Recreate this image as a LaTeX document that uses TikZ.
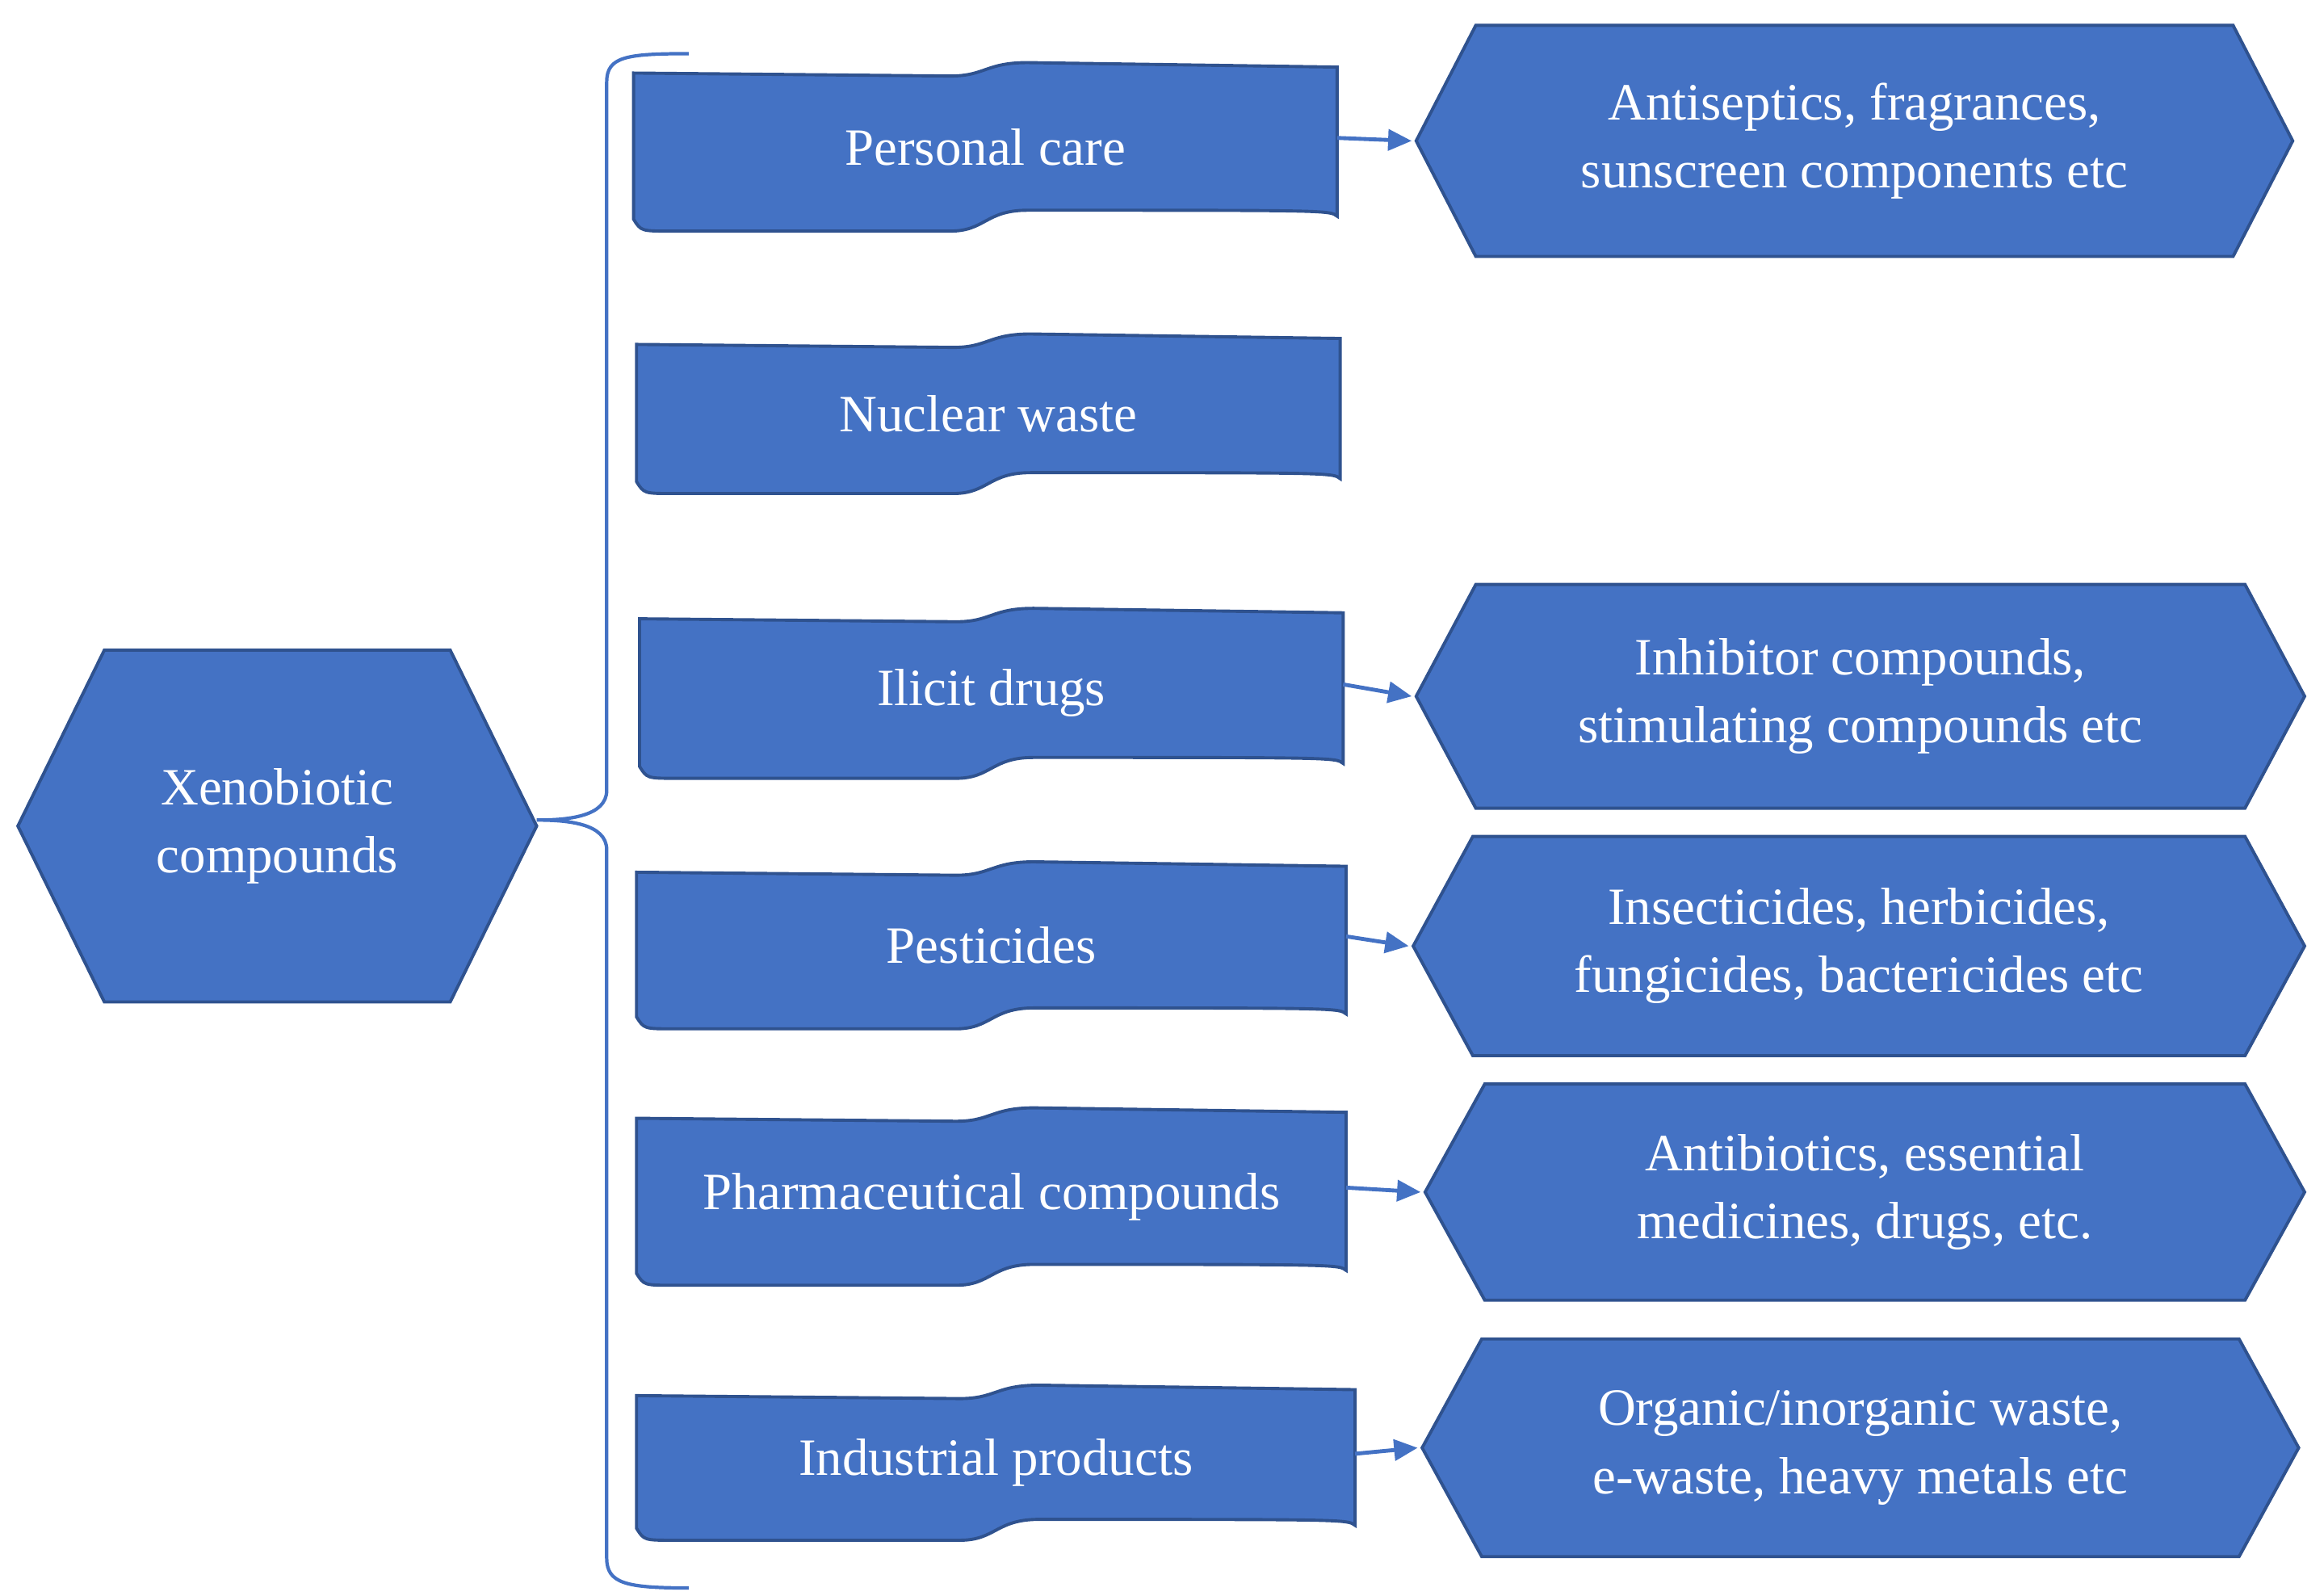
\documentclass[tikz,border=0pt]{standalone}
\usepackage{fontspec}
\setmainfont{Liberation Serif}
\usetikzlibrary{arrows.meta}
\definecolor{fillb}{HTML}{4472C4}
\definecolor{lineb}{HTML}{2F528F}
\tikzset{
 shp/.style={fill=fillb,draw=lineb,line width=1.2pt},
 txt/.style={text=white,font=\fontsize{20}{26}\selectfont,align=center},
 arr/.style={draw=fillb,line width=1.5pt,-{Triangle[length=9pt,width=8pt]}}
}
\newcommand\banner[6]{%
 \path[shp] (#2,#4+7) -- ({#2+0.45*(#3-#2)},#4+9) .. controls ({#2+0.5*(#3-#2)},#4+9) and ({#2+0.5*(#3-#2)},#4) .. ({#2+0.56*(#3-#2)},#4) -- (#3,#4+3) -- (#3,#5-10) .. controls (#3-5,#5-14) .. ({#2+0.56*(#3-#2)},#5-14) .. controls ({#2+0.5*(#3-#2)},#5-14) and ({#2+0.5*(#3-#2)},#5) .. ({#2+0.45*(#3-#2)},#5) -- (#2+25,#5) .. controls (#2+5,#5) .. (#2,#5-8) -- cycle;
 \node[txt] (#1) at ({0.5*(#2+#3)},{0.5*(#4+#5)}) {#6};
 \coordinate (#1e) at (#3,{0.5*(#4+#5)-6});}
\newcommand\hexa[7]{% name x0 x1 t b inset text
 \path[shp] (#2,{0.5*(#4+#5)}) -- (#2+#6,#4) -- (#3-#6,#4) -- (#3,{0.5*(#4+#5)}) -- (#3-#6,#5) -- (#2+#6,#5) -- cycle;
 \node[txt] (#1) at ({0.5*(#2+#3)},{0.5*(#4+#5)}) {#7};
 \coordinate (#1w) at (#2-3,{0.5*(#4+#5)});}
\begin{document}
\begin{tikzpicture}[x=0.02cm,y=-0.02cm]
\useasboundingbox (0,0) rectangle (1559,1070);
\hexa{xen}{12}{360}{436}{672}{58}{Xenobiotic\\compounds}
\coordinate (bt) at (462,36); \coordinate (bb) at (462,1065); \coordinate (bm) at (360,550);
\draw[fillb,line width=1.3pt] (bt) .. controls (420,36) and (407,38) .. (407,55) -- (407,530) .. controls (407,548) and (380,550) .. (bm) .. controls (380,550) and (407,552) .. (407,570) -- (407,1045) .. controls (407,1062) and (420,1065) .. (bb);
\banner{pc}{425}{897}{42}{155}{Personal care}
\banner{nw}{427}{899}{224}{331}{Nuclear waste}
\banner{id}{429}{901}{408}{522}{Ilicit drugs}
\banner{pe}{427}{903}{578}{690}{Pesticides}
\banner{ph}{427}{903}{743}{862}{Pharmaceutical compounds}
\banner{ip}{427}{909}{929}{1033}{Industrial products}
\hexa{h1}{950}{1538}{17}{172}{40}{Antiseptics, fragrances,\\sunscreen components etc}
\hexa{h2}{950}{1546}{392}{542}{40}{Inhibitor compounds,\\stimulating compounds etc}
\hexa{h3}{948}{1546}{561}{708}{40}{Insecticides, herbicides,\\fungicides, bactericides etc}
\hexa{h4}{956}{1546}{727}{872}{40}{Antibiotics, essential\\medicines, drugs, etc.}
\hexa{h5}{954}{1542}{898}{1044}{40}{Organic/inorganic waste,\\e-waste, heavy metals etc}
\draw[arr] (pce) -- (h1w);
\draw[arr] (ide) -- (h2w);
\draw[arr] (pee) -- (h3w);
\draw[arr] (phe) -- (h4w);
\draw[arr] (ipe) -- (h5w);
\end{tikzpicture}
\end{document}
